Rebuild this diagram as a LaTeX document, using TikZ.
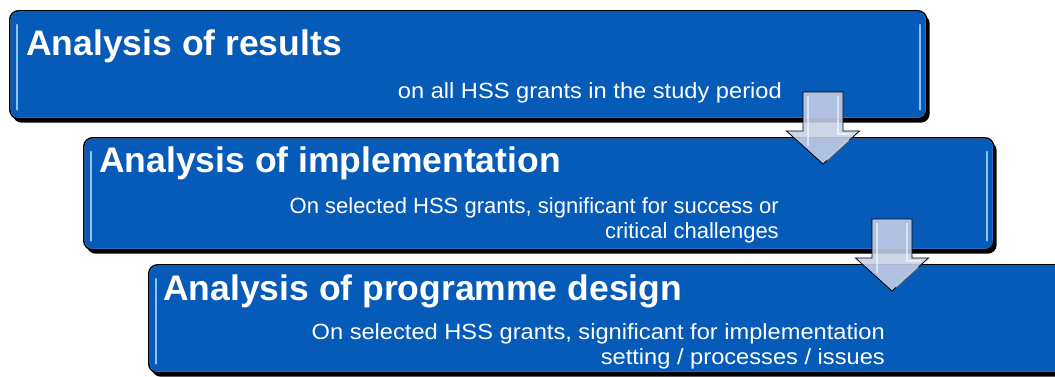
\documentclass[tikz,border=0pt]{standalone}
\usepackage{fontspec}
\setmainfont{Liberation Sans}
\usetikzlibrary{shadows}

\definecolor{stageblue}{RGB}{6,90,184}
\definecolor{stageedge}{RGB}{96,150,214}
\definecolor{glint}{RGB}{140,196,246}
\definecolor{arrowfill}{RGB}{198,208,230}

\tikzset{
  stage/.style={draw=black, line width=1.4pt, fill=stageblue, rounded corners=9pt,
    anchor=north west, inner sep=0pt,
    drop shadow={shadow xshift=3pt, shadow yshift=-4pt, opacity=1, fill=black},
    path picture={
      \draw[stageedge, line width=2pt]
        (path picture bounding box.north west) rectangle (path picture bounding box.south east);
      \draw[glint, line width=1.6pt, line cap=round]
        ([xshift=7pt,yshift=-14pt]path picture bounding box.north west)
        -- ([xshift=7pt,yshift=9pt]path picture bounding box.south west);
      \draw[glint, line width=1.6pt, line cap=round]
        ([xshift=-7pt,yshift=-14pt]path picture bounding box.north east)
        -- ([xshift=-7pt,yshift=9pt]path picture bounding box.south east);
    }},
  headline/.style={anchor=base west, text=white, inner sep=0pt,
    font=\fontsize{35.5}{40}\selectfont\bfseries},
  detail/.style={anchor=base east, text=white, inner sep=0pt, align=right,
    font=\fontsize{22}{24.5}\selectfont},
  wide/.style={xscale=1.075, transform shape},
  downarrow/.style={draw=black, line width=0.8pt, fill=arrowfill, fill opacity=0.88,
    line join=miter},
  arrowglint/.style={white, opacity=0.55, line width=1.5pt}
}

\begin{document}
\begin{tikzpicture}[x=1pt, y=-1pt]
  \useasboundingbox (0,0) rectangle (1055,376);
  \clip (0,0) rectangle (1055,376);

  % the three stages
  \node[stage, minimum width=917pt, minimum height=108pt] (results) at (9,10) {};
  \node[stage, minimum width=910pt, minimum height=112pt] (implementation) at (83,137) {};
  \node[stage, minimum width=930pt, minimum height=108pt] (design) at (148,264) {};

  \node[headline] (resultstitle) at (26,55) {Analysis of results};
  \node[detail, wide] (resultstext) at (782,98) {on all HSS grants in the study period};

  \node[headline] (impltitle) at (99,172) {Analysis of implementation};
  \node[detail] (impltext) at (779,238) {On selected HSS grants, significant for success or\\critical challenges};

  \node[headline] (designtitle) at (163,300) {Analysis of programme design};
  \node[detail, wide] (designtext) at (885,364) {On selected HSS grants, significant for implementation\\setting / processes / issues};

  % arrows between the stages
  \coordinate (resultsdown) at (823,92);
  \coordinate (impldown) at (892,219);
  \foreach \a in {resultsdown, impldown} {
    \draw[downarrow] (\a) ++(-20,0) -- ++(40,0) -- ++(0,39) -- ++(16.5,0)
      -- ++(-36.5,33) -- ++(-36.5,-33) -- ++(16.5,0) -- cycle;
    \draw[arrowglint] (\a) ++(-15,4) -- ++(0,50);
    \draw[arrowglint] (\a) ++(15,4) -- ++(0,38) -- ++(14,0);
    \draw[arrowglint] (\a) ++(26,48) -- ++(-22,20);
  }
\end{tikzpicture}
\end{document}
